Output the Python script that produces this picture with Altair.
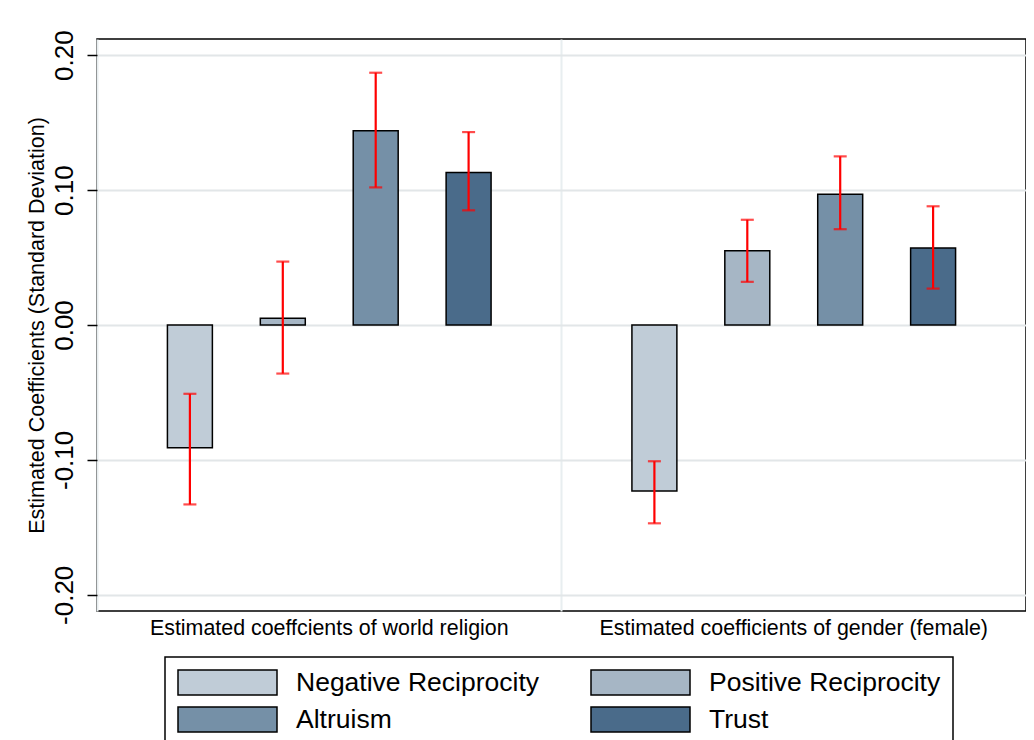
import altair as alt
import pandas as pd

group_labels = ["Estimated coeffcients of world religion",
                "Estimated coefficients of gender (female)"]
measure_labels = ["Negative Reciprocity", "Positive Reciprocity", "Altruism", "Trust"]
measure_colors = ["#C0CCD7", "#A6B6C5", "#7590A7", "#4A6B8A"]

coef_religion = [-0.091, 0.005, 0.144, 0.113]
low_religion = [-0.133, -0.036, 0.102, 0.085]
high_religion = [-0.051, 0.047, 0.187, 0.143]

coef_gender = [-0.123, 0.055, 0.097, 0.057]
low_gender = [-0.147, 0.032, 0.071, 0.027]
high_gender = [-0.101, 0.078, 0.125, 0.088]

y_ticks = [-0.2, -0.1, 0.0, 0.1, 0.2]

rows = []
for g, coefs, lows, highs in [
    (group_labels[0], coef_religion, low_religion, high_religion),
    (group_labels[1], coef_gender, low_gender, high_gender),
]:
    for m, c, lo, hi in zip(measure_labels, coefs, lows, highs):
        rows.append({"group": g, "measure": m, "coef": c, "lo": lo, "hi": hi})
df = pd.DataFrame(rows)

FONT = "Liberation Sans"

x_scale = alt.Scale(domain=group_labels, paddingInner=0, paddingOuter=0)
xo_scale = alt.Scale(domain=measure_labels, paddingInner=0.516, paddingOuter=0.758)
y_scale = alt.Scale(domain=[-0.212, 0.212], nice=False, zero=False)

y_axis = alt.Axis(values=y_ticks, title="Estimated Coefficients (Standard Deviation)",
                  labelExpr="datum.value < 0 ? '-' + format(-datum.value, '.2f') : format(datum.value, '.2f')",
                  titleFontSize=21.5, titleFont=FONT, titleFontWeight="normal",
                  titleColor="black", titlePadding=3,
                  labelAngle=270, labelAlign="center", labelBaseline="bottom",
                  labelFontSize=26, labelFont=FONT, labelColor="black",
                  labelPadding=10, tickSize=10, tickColor="black", tickWidth=1.5,
                  domain=False, grid=True, gridColor="#E2E6E8", gridWidth=2)

# wide rectangle legend swatch: 25px "size" square, path stretched horizontally
rect_path = "M-3.96,-1H3.96V1H-3.96Z"

base = alt.Chart(df)

bars = base.mark_bar(stroke="black", strokeWidth=1.5).encode(
    x=alt.X("group:N", scale=x_scale, sort=group_labels,
            axis=alt.Axis(title=None, ticks=False, domain=False, grid=False,
                          labelAngle=0, labelFontSize=21.4, labelFont=FONT,
                          labelColor="black", labelPadding=6, labelLimit=600)),
    xOffset=alt.XOffset("measure:N", scale=xo_scale, sort=measure_labels),
    y=alt.Y("coef:Q", scale=y_scale, axis=y_axis),
    color=alt.Color("measure:N", scale=alt.Scale(domain=measure_labels, range=measure_colors),
                    sort=measure_labels,
                    legend=alt.Legend(title=None, orient="none", legendX=68, legendY=618,
                                      direction="horizontal",
                                      columns=2, symbolType=rect_path, symbolSize=625,
                                      symbolOffset=37,
                                      symbolStrokeColor="black", symbolStrokeWidth=1.5,
                                      symbolOpacity=1,
                                      labelFontSize=26.5, labelFont=FONT, labelColor="black",
                                      labelOffset=55, columnPadding=48, rowPadding=6,
                                      padding=12, strokeColor="black",
                                      labelLimit=400)),
)

err = base.mark_rule(color="#FF0000", strokeWidth=2.2).encode(
    x=alt.X("group:N", scale=x_scale, sort=group_labels,
            axis=alt.Axis(title=None, labels=False, ticks=False, domain=False, grid=True,
                          bandPosition=0, gridColor="#E8EEF0", gridWidth=2)),
    xOffset=alt.XOffset("measure:N", scale=xo_scale, sort=measure_labels),
    y=alt.Y("lo:Q", scale=y_scale, axis=y_axis),
    y2="hi:Q",
)

cap_lo = base.mark_tick(color="#FF0000", thickness=2.2, size=13, orient="horizontal").encode(
    x=alt.X("group:N", scale=x_scale, sort=group_labels, axis=None),
    xOffset=alt.XOffset("measure:N", scale=xo_scale, sort=measure_labels),
    y=alt.Y("lo:Q", scale=y_scale, axis=y_axis),
)
cap_hi = base.mark_tick(color="#FF0000", thickness=2.2, size=13, orient="horizontal").encode(
    x=alt.X("group:N", scale=x_scale, sort=group_labels, axis=None),
    xOffset=alt.XOffset("measure:N", scale=xo_scale, sort=measure_labels),
    y=alt.Y("hi:Q", scale=y_scale, axis=y_axis),
)

chart = alt.layer(bars, err, cap_lo, cap_hi).resolve_axis(x="independent").properties(
    width=929, height=572,
    padding={"left": 18, "top": 21, "right": 0, "bottom": 5},
    background="white",
).configure_view(stroke="black", strokeWidth=1.5).configure_legend(strokeWidth=1.5)

chart.save("out.html", embed_options={"renderer": "svg", "actions": False})
